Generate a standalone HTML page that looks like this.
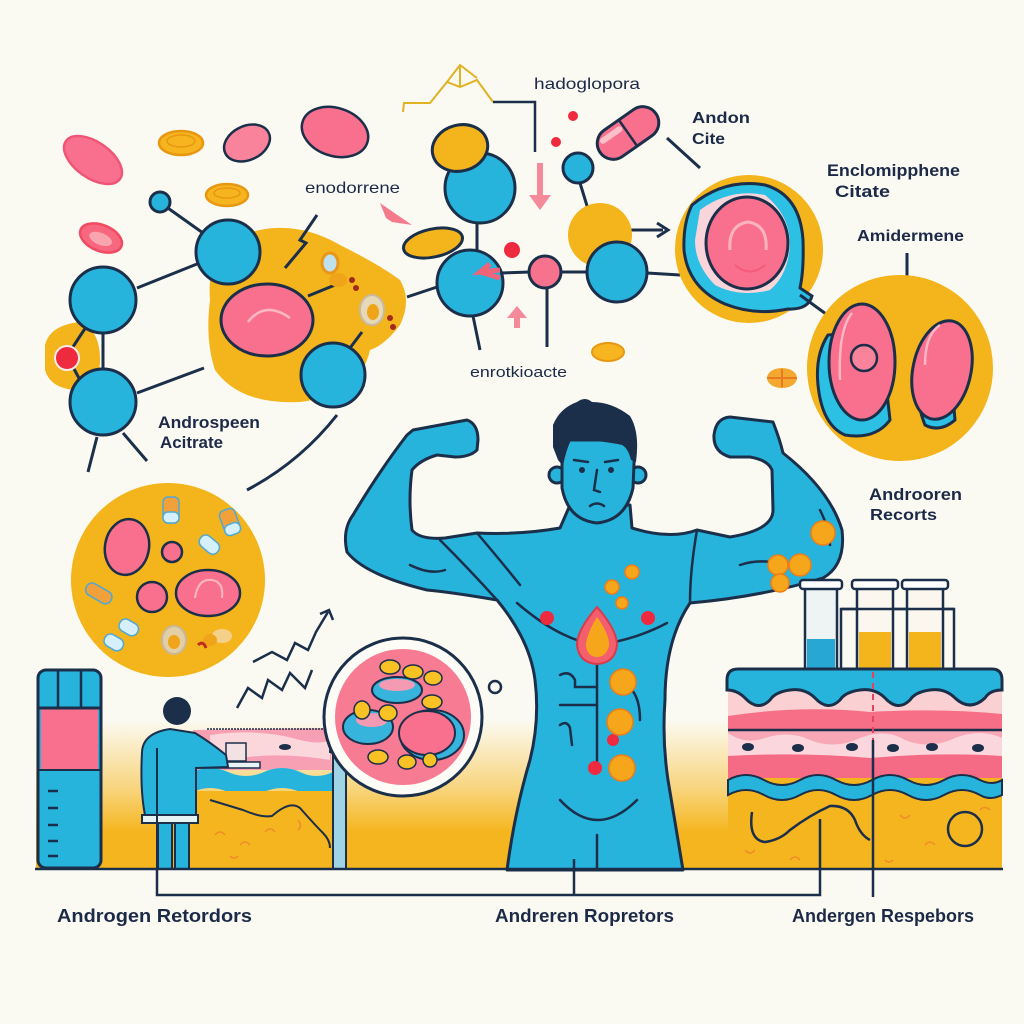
<!DOCTYPE html>
<html><head><meta charset="utf-8"><style>
html,body{margin:0;padding:0;background:#fbfaf2;}
svg{display:block;}
text{font-family:"Liberation Sans",sans-serif;fill:#1c2a48;}
</style></head><body>
<svg width="1024" height="1024" viewBox="0 0 1024 1024" xmlns="http://www.w3.org/2000/svg">
<defs>
<linearGradient id="floor" x1="0" y1="0" x2="0" y2="1">
<stop offset="0" stop-color="#f6b823" stop-opacity="0"/>
<stop offset="0.45" stop-color="#f6b823" stop-opacity="0.55"/>
<stop offset="0.75" stop-color="#f5b51f" stop-opacity="1"/>
<stop offset="1" stop-color="#f5b51f"/>
</linearGradient>
</defs>
<rect width="1024" height="1024" fill="#fbfaf2"/>

<!-- floor -->
<rect x="36" y="720" width="966" height="149" fill="url(#floor)"/>

<!-- ===== TOP LEFT PILLS ===== -->
<g stroke-width="2.5">
<ellipse cx="93" cy="160" rx="33" ry="18" transform="rotate(35 93 160)" fill="#f8708d" stroke="#ef5577"/>
<ellipse cx="181" cy="143" rx="22" ry="12" fill="#f6b51e" stroke="#e89712"/>
<ellipse cx="181" cy="141" rx="14" ry="6" fill="none" stroke="#e89712" stroke-width="1.5"/>
<ellipse cx="247" cy="143" rx="24" ry="17" transform="rotate(-25 247 143)" fill="#f8839a" stroke="#1b2f4a"/>
<ellipse cx="335" cy="132" rx="34" ry="24" transform="rotate(18 335 132)" fill="#f8708d" stroke="#1b2f4a"/>
<ellipse cx="227" cy="195" rx="21" ry="11" fill="#f6b51e" stroke="#e89712"/>
<ellipse cx="227" cy="193" rx="13" ry="5" fill="none" stroke="#e89712" stroke-width="1.5"/>
<ellipse cx="101" cy="238" rx="22" ry="13" transform="rotate(22 101 238)" fill="#f7687f" stroke="#f24a63"/>
<ellipse cx="101" cy="239" rx="12" ry="6" transform="rotate(22 101 238)" fill="#f9a5b0"/>
</g>

<!-- ===== TOP LEFT MOLECULE ===== -->
<path d="M210,300 Q205,240 260,230 Q300,222 340,245 Q380,265 400,280 Q412,300 400,325 Q385,345 370,350 Q360,395 300,402 Q240,405 215,370 Q205,340 210,300 Z" fill="#f3b41c"/>
<path d="M45,345 Q50,325 80,322 Q100,330 100,360 Q100,390 75,390 Q50,388 45,370 Z" fill="#f3b41c"/>
<g stroke="#1b2f4a" stroke-width="3" fill="none">
<line x1="165" y1="206" x2="203" y2="233"/>
<line x1="137" y1="288" x2="197" y2="264"/>
<line x1="103" y1="333" x2="103" y2="370"/>
<polyline points="86,327 67,356 80,380"/>
<line x1="137" y1="393" x2="204" y2="368"/>
<line x1="97" y1="437" x2="88" y2="472"/>
<line x1="123" y1="433" x2="147" y2="461"/>
<polyline points="317,215 300,240 306,243 285,268"/>
<path d="M247,490 Q300,462 337,415"/>
<line x1="407" y1="297" x2="437" y2="287"/>
<line x1="350" y1="348" x2="362" y2="332"/>
<line x1="308" y1="296" x2="335" y2="285"/>
</g>
<g stroke="#1b2f4a" stroke-width="3" fill="#27b4dc">
<circle cx="160" cy="202" r="10"/>
<circle cx="228" cy="252" r="32"/>
<circle cx="103" cy="300" r="33"/>
<circle cx="103" cy="402" r="33"/>
<circle cx="333" cy="375" r="32"/>
</g>
<circle cx="67" cy="358" r="12" fill="#ee2a3e" stroke="#f7eaea" stroke-width="2"/>
<ellipse cx="267" cy="320" rx="46" ry="36" fill="#f8708d" stroke="#1b2f4a" stroke-width="3"/>
<path d="M248,322 Q265,300 290,318" fill="none" stroke="#fbb7c3" stroke-width="2.5"/>
<!-- swirls -->
<g>
<ellipse cx="330" cy="263" rx="8" ry="10" fill="#bfe1ee" stroke="#e9961a" stroke-width="3"/>
<ellipse cx="338" cy="280" rx="9" ry="7" fill="#f0a419"/>
<circle cx="352" cy="280" r="3" fill="#a02a22"/>
<circle cx="356" cy="288" r="3" fill="#a02a22"/>
<ellipse cx="372" cy="310" rx="12" ry="15" fill="#e6d9b8" stroke="#c9b9a0" stroke-width="2"/>
<ellipse cx="373" cy="312" rx="6" ry="8" fill="#f0a419"/>
<circle cx="390" cy="318" r="3" fill="#a02a22"/>
<circle cx="393" cy="327" r="3" fill="#a02a22"/>
</g>

<!-- pink triangle arrow -->
<polygon points="380,203 412,225 392,222 386,218" fill="#f47a8c"/>

<!-- ===== CENTER MOLECULE ===== -->
<polyline points="403,112 404,103 430,103 447,82 460,87 477,80 493,102" fill="none" stroke="#e0b324" stroke-width="2"/>
<polyline points="447,82 460,65 477,78" fill="none" stroke="#e0b324" stroke-width="2"/>
<line x1="460" y1="65" x2="460" y2="87" stroke="#e0b324" stroke-width="2"/>
<polyline points="493,102 535,102 535,152" fill="none" stroke="#1b2f4a" stroke-width="2.5"/>
<g stroke="#1b2f4a" stroke-width="3" fill="none">
<line x1="477" y1="220" x2="477" y2="252"/>
<line x1="473" y1="316" x2="480" y2="350"/>
<line x1="500" y1="273" x2="530" y2="272"/>
<line x1="562" y1="272" x2="590" y2="272"/>
<line x1="647" y1="273" x2="680" y2="275"/>
<line x1="547" y1="288" x2="547" y2="347"/>
<line x1="580" y1="183" x2="592" y2="222"/>
<line x1="667" y1="138" x2="700" y2="168"/>
<line x1="628" y1="230" x2="663" y2="230"/>
<polyline points="657,223 668,230 657,237" stroke-width="3"/>
</g>
<circle cx="600" cy="235" r="32" fill="#f3b41c"/>
<g stroke="#1b2f4a" stroke-width="3" fill="#27b4dc">
<circle cx="480" cy="188" r="35"/>
<circle cx="470" cy="283" r="33"/>
<circle cx="617" cy="272" r="30"/>
<circle cx="578" cy="168" r="15"/>
</g>
<ellipse cx="460" cy="148" rx="28" ry="23" transform="rotate(-15 460 148)" fill="#f3b41c" stroke="#1b2f4a" stroke-width="3"/>
<ellipse cx="433" cy="243" rx="30" ry="14" transform="rotate(-12 433 243)" fill="#f3b41c" stroke="#1b2f4a" stroke-width="3"/>
<circle cx="545" cy="272" r="16" fill="#f6728d" stroke="#1b2f4a" stroke-width="3"/>
<path d="M500,270 L480,272 L490,264 M480,272 L500,278" fill="none" stroke="#f0647a" stroke-width="5"/>
<circle cx="512" cy="250" r="8" fill="#ee2a3e"/>
<circle cx="573" cy="116" r="5" fill="#ee2a3e"/>
<circle cx="556" cy="142" r="5" fill="#ee2a3e"/>
<path d="M537,163 h6 v32 h8 l-11,15 l-11,-15 h8 z" fill="#f58a9b"/>
<path d="M514,328 h6 v-10 h7 l-10,-12 l-10,12 h7 z" fill="#f58a9b"/>
<g transform="rotate(-35 628 133)">
<rect x="594" y="117" width="68" height="32" rx="16" fill="#f8708d" stroke="#1b2f4a" stroke-width="3"/>
<line x1="628" y1="117" x2="628" y2="149" stroke="#1b2f4a" stroke-width="2.5"/>
<rect x="600" y="122" width="26" height="6" rx="3" fill="#fbc1c9"/>
</g>
<ellipse cx="608" cy="352" rx="16" ry="9" fill="#f6b51e" stroke="#e89712" stroke-width="2"/>
<ellipse cx="782" cy="378" rx="15" ry="10" fill="#f5a830"/>
<line x1="767" y1="378" x2="797" y2="378" stroke="#e57c22" stroke-width="2"/>
<line x1="782" y1="369" x2="782" y2="387" stroke="#e57c22" stroke-width="2"/>

<!-- ===== RIGHT BIG CIRCLES ===== -->
<line x1="907" y1="253" x2="907" y2="276" stroke="#1b2f4a" stroke-width="3"/>
<circle cx="749" cy="249" r="74" fill="#f3b41c"/>
<path d="M692,205 Q725,178 765,185 Q800,195 803,240 Q804,270 800,288 L812,296 Q808,310 788,309 Q755,316 725,304 Q688,288 684,250 Q683,223 692,205 Z" fill="#2bc0e4" stroke="#1b2f4a" stroke-width="3"/>
<path d="M700,210 Q730,188 765,195 Q790,215 790,245 Q788,275 770,290 Q740,298 715,285 Q695,265 695,240 Z" fill="#f9d4da"/>
<ellipse cx="747" cy="243" rx="41" ry="46" fill="#f8708d" stroke="#1b2f4a" stroke-width="3"/>
<path d="M730,250 Q728,225 748,222 Q768,225 766,250" fill="none" stroke="#fbb3c0" stroke-width="3"/>
<path d="M735,265 Q750,278 765,265" fill="none" stroke="#f55a7a" stroke-width="2"/>
<line x1="800" y1="295" x2="826" y2="314" stroke="#1b2f4a" stroke-width="3"/>
<circle cx="900" cy="368" r="93" fill="#f3b41c"/>
<path d="M828,335 Q815,355 818,385 Q822,425 845,435 Q875,440 890,420 L880,330 Z" fill="#2bc0e4" stroke="#1b2f4a" stroke-width="3"/>
<path d="M915,360 Q915,400 925,425 Q940,433 955,420 L950,360 Z" fill="#2bc0e4" stroke="#1b2f4a" stroke-width="3"/>
<ellipse cx="862" cy="362" rx="33" ry="58" fill="#f8708d" stroke="#1b2f4a" stroke-width="3"/>
<path d="M840,380 Q838,330 852,313" fill="none" stroke="#fbb7c3" stroke-width="2.5"/>
<circle cx="864" cy="358" r="13" fill="#f8839a" stroke="#1b2f4a" stroke-width="2.5"/>
<ellipse cx="942" cy="370" rx="29" ry="50" transform="rotate(12 942 370)" fill="#f8708d" stroke="#1b2f4a" stroke-width="3"/>
<path d="M925,365 Q925,335 940,325" fill="none" stroke="#fbb7c3" stroke-width="2.5"/>

<!-- ===== LEFT YELLOW CIRCLE ===== -->
<circle cx="168" cy="580" r="97" fill="#f3b41c"/>
<ellipse cx="127" cy="547" rx="22" ry="28" transform="rotate(10 127 547)" fill="#f8708d" stroke="#1b2f4a" stroke-width="2.5"/>
<circle cx="172" cy="552" r="10" fill="#f8708d" stroke="#1b2f4a" stroke-width="2.5"/>
<circle cx="152" cy="597" r="15" fill="#f8708d" stroke="#1b2f4a" stroke-width="2.5"/>
<ellipse cx="208" cy="593" rx="32" ry="23" fill="#f8708d" stroke="#1b2f4a" stroke-width="2.5"/>
<path d="M195,598 Q198,578 212,580 Q224,582 222,598" fill="none" stroke="#fbb7c3" stroke-width="2"/>
<g stroke="#4fa9d4" stroke-width="1.5">
<rect x="163" y="497" width="16" height="26" rx="5" fill="#f2a13a"/>
<rect x="163" y="512" width="16" height="11" rx="5" fill="#d6f0fb"/>
<rect x="222" y="509" width="16" height="26" rx="5" transform="rotate(-20 230 522)" fill="#f2a13a"/>
<rect x="222" y="524" width="16" height="11" rx="5" transform="rotate(-20 230 522)" fill="#d6f0fb"/>
<rect x="198" y="538" width="22" height="13" rx="6" transform="rotate(40 209 545)" fill="#d6f0fb"/>
<rect x="85" y="587" width="28" height="13" rx="6" transform="rotate(30 99 593)" fill="#f2a13a"/>
<rect x="119" y="621" width="20" height="13" rx="6" transform="rotate(30 129 627)" fill="#d6f0fb"/>
<rect x="104" y="636" width="20" height="13" rx="6" transform="rotate(30 114 642)" fill="#d6f0fb"/>
</g>
<ellipse cx="174" cy="640" rx="12" ry="14" fill="#e3cfa5" stroke="#c9b79a" stroke-width="2"/>
<ellipse cx="174" cy="642" rx="6" ry="7" fill="#f0a419"/>
<ellipse cx="222" cy="636" rx="10" ry="7" fill="#f5d08b"/>
<ellipse cx="210" cy="640" rx="7" ry="6" fill="#f0a419"/>
<path d="M198,645 Q203,640 206,648" fill="none" stroke="#c02c22" stroke-width="3"/>

<!-- ===== BOTTOM LEFT SCENE ===== -->
<!-- tissue behind desk -->
<path d="M193,730 L330,728 L332,770 L193,770 Z" fill="#f7a0b3"/>
<path d="M210,735 Q260,728 300,740 Q320,745 330,740 L330,760 Q280,752 240,758 Q215,760 210,750 Z" fill="#fbd7dc"/>
<ellipse cx="285" cy="747" rx="6" ry="3" fill="#1b2f4a"/>
<line x1="207" y1="729" x2="330" y2="729" stroke="#1b2f4a" stroke-width="1.5" stroke-dasharray="2 1"/>
<path d="M193,772 Q210,764 228,772 Q246,780 264,772 Q282,764 300,772 Q316,780 333,772 L333,792 Q316,800 300,792 Q282,784 264,792 Q246,800 228,792 Q210,784 193,792 Z" fill="#27b4dc"/>
<rect x="193" y="791" width="140" height="78" fill="#f5b51f"/>
<path d="M210,800 Q230,806 243,810 Q262,818 272,816 Q290,800 300,808 Q315,825 323,833 Q330,840 330,848" fill="none" stroke="#1b2f4a" stroke-width="2"/>
<g fill="none" stroke="#ee8b2a" stroke-width="1.5">
<path d="M215,835 q5,-6 10,0"/><path d="M240,845 q5,-6 10,0"/><path d="M265,832 q5,-6 10,0"/><path d="M298,820 q5,6 0,10"/><path d="M230,856 q4,4 8,0"/>
</g>
<!-- desk pole -->
<rect x="333" y="752" width="13" height="117" fill="#9fd3e6" stroke="#1b2f4a" stroke-width="2"/>
<path d="M330,752 Q330,740 340,740 L350,745 L350,756 Z" fill="#9fd3e6" stroke="#1b2f4a" stroke-width="2"/>
<!-- desk top -->
<rect x="190" y="762" width="70" height="6" fill="#e8f3f5" stroke="#1b2f4a" stroke-width="1.5"/>
<rect x="226" y="743" width="20" height="18" fill="#f2e2e4" stroke="#1b2f4a" stroke-width="1.5"/>
<!-- person -->
<circle cx="177" cy="711" r="14" fill="#1b2f4a"/>
<path d="M142,752 Q143,733 170,729 L195,733 Q210,742 226,755 L228,767 L196,768 L196,815 L145,815 Q140,790 142,752 Z" fill="#27b4dc" stroke="#1b2f4a" stroke-width="2"/>
<rect x="142" y="815" width="56" height="8" fill="#e8f3f5" stroke="#1b2f4a" stroke-width="2"/>
<rect x="158" y="823" width="14" height="46" fill="#27b4dc" stroke="#1b2f4a" stroke-width="2"/>
<rect x="175" y="823" width="14" height="46" fill="#27b4dc" stroke="#1b2f4a" stroke-width="2"/>
<line x1="157" y1="748" x2="157" y2="895" stroke="#1b2f4a" stroke-width="2"/>
<!-- tube -->
<rect x="38" y="670" width="63" height="198" rx="8" fill="#27b4dc" stroke="#1b2f4a" stroke-width="3"/>
<rect x="41" y="708" width="57" height="62" fill="#f8708d"/>
<line x1="38" y1="708" x2="101" y2="708" stroke="#1b2f4a" stroke-width="3"/>
<line x1="38" y1="770" x2="101" y2="770" stroke="#1b2f4a" stroke-width="2"/>
<line x1="58" y1="670" x2="58" y2="708" stroke="#1b2f4a" stroke-width="2.5"/>
<line x1="81" y1="670" x2="81" y2="708" stroke="#1b2f4a" stroke-width="2.5"/>
<g stroke="#1b2f4a" stroke-width="2.5">
<line x1="48" y1="791" x2="58" y2="791"/><line x1="48" y1="808" x2="58" y2="808"/><line x1="48" y1="825" x2="58" y2="825"/><line x1="48" y1="841" x2="58" y2="841"/><line x1="48" y1="856" x2="58" y2="856"/>
</g>
<!-- zigzag arrow -->
<polyline points="237,708 248,688 262,698 268,680 282,690 290,673 305,688 312,670" fill="none" stroke="#1b2f4a" stroke-width="2.5"/>
<polyline points="253,662 272,652 287,660 295,643 308,650 316,632 328,612" fill="none" stroke="#1b2f4a" stroke-width="2.5"/>
<polyline points="320,614 329,610 333,620" fill="none" stroke="#1b2f4a" stroke-width="2.5"/>
<!-- magnifier -->
<circle cx="403" cy="717" r="79" fill="#fdfcf6" stroke="#1b2f4a" stroke-width="3"/>
<circle cx="403" cy="717" r="68" fill="#f67b93"/>
<ellipse cx="397" cy="690" rx="25" ry="13" fill="#37b4dc" stroke="#1b2f4a" stroke-width="2"/>
<ellipse cx="397" cy="685" rx="18" ry="6" fill="#f59ab3"/>
<ellipse cx="368" cy="727" rx="25" ry="17" fill="#37b4dc" stroke="#1b2f4a" stroke-width="2"/>
<ellipse cx="372" cy="720" rx="16" ry="7" fill="#f59ab3"/>
<ellipse cx="432" cy="735" rx="32" ry="25" fill="#37b4dc" stroke="#1b2f4a" stroke-width="2"/>
<ellipse cx="427" cy="733" rx="28" ry="22" fill="#f8708d" stroke="#1b2f4a" stroke-width="2"/>
<g fill="#f8c224" stroke="#1b2f4a" stroke-width="1.5">
<ellipse cx="390" cy="667" rx="10" ry="7"/><ellipse cx="413" cy="672" rx="10" ry="7"/><ellipse cx="433" cy="678" rx="9" ry="7"/>
<ellipse cx="362" cy="710" rx="8" ry="9"/><ellipse cx="388" cy="713" rx="9" ry="8"/><ellipse cx="432" cy="702" rx="10" ry="7"/>
<ellipse cx="378" cy="757" rx="10" ry="7"/><ellipse cx="407" cy="762" rx="9" ry="7"/><ellipse cx="430" cy="760" rx="7" ry="7"/>
</g>
<circle cx="495" cy="687" r="6" fill="none" stroke="#1b2f4a" stroke-width="2.5"/>

<!-- ===== MAN ===== -->
<path d="M413,430 L467,420 Q478,424 478,440 L477,450 Q470,457 455,457 L437,455 Q420,460 412,470 Q408,500 412,530 Q420,540 445,538 L477,533 Q520,535 560,528 L570,505 L630,505 L632,528 Q670,540 697,530 L730,537 Q773,530 773,510 L772,470 Q768,460 750,457 L730,457 Q713,452 714,435 Q716,418 730,417 L773,422 Q780,440 783,453 Q830,490 842,530 Q846,565 823,578 Q760,597 690,603 Q665,640 665,700 Q662,740 668,780 L683,870 L507,870 Q515,810 530,760 Q540,720 535,680 Q530,640 497,600 Q450,592 427,590 Q365,575 347,552 Q342,530 353,515 Q380,470 407,435 Z" fill="#27b4dc" stroke="#1b2f4a" stroke-width="3" stroke-linejoin="round"/>
<g fill="none" stroke="#1b2f4a" stroke-width="2.5" stroke-linecap="round">
<path d="M440,540 Q470,570 497,600"/>
<path d="M517,603 Q560,640 597,645 Q635,640 667,623"/>
<path d="M697,530 Q690,570 690,603"/>
<path d="M477,533 Q500,560 520,585"/>
<path d="M410,565 Q430,575 445,570"/>
<path d="M740,565 Q755,560 770,562"/>
<line x1="597" y1="663" x2="597" y2="768"/>
<path d="M560,675 Q570,670 575,680 L575,687 L597,687"/>
<path d="M560,705 L597,705"/>
<path d="M560,725 Q567,720 570,728 L572,745"/>
<path d="M632,690 Q640,700 640,720"/>
<path d="M560,800 Q597,840 637,800"/>
<line x1="597" y1="835" x2="597" y2="868"/>
<path d="M820,510 Q830,530 830,545"/>
</g>
<!-- head -->
<circle cx="557" cy="475" r="8" fill="#27b4dc" stroke="#1b2f4a" stroke-width="3"/>
<circle cx="638" cy="475" r="8" fill="#27b4dc" stroke="#1b2f4a" stroke-width="3"/>
<path d="M562,440 L562,488 Q568,520 597,523 Q626,520 633,488 L635,440 Z" fill="#27b4dc" stroke="#1b2f4a" stroke-width="3"/>
<path d="M553,447 L553,425 Q560,408 577,402 Q585,396 592,402 Q612,402 630,416 Q640,432 636,462 L631,460 Q628,448 622,445 Q600,440 571,440 Q566,450 563,466 L558,460 Z" fill="#1b2f4a"/>
<g stroke="#1b2f4a" stroke-width="2.5" fill="none" stroke-linecap="round">
<line x1="574" y1="460" x2="588" y2="462"/><line x1="605" y1="462" x2="618" y2="460"/>
<path d="M597,470 L594,490 L600,492"/>
<path d="M590,506 Q597,501 604,506"/>
</g>
<circle cx="582" cy="470" r="3" fill="#1b2f4a"/><circle cx="611" cy="470" r="3" fill="#1b2f4a"/>
<!-- body dots -->
<path d="M597,607 Q617,630 617,645 Q615,663 597,664 Q579,663 577,645 Q577,630 597,607 Z" fill="#f35f6c" stroke="#d93a4c" stroke-width="2"/>
<path d="M597,617 Q610,635 609,646 Q606,657 597,657 Q588,657 586,646 Q586,635 597,617 Z" fill="#f6a61a"/>
<g fill="#ee2a3e"><circle cx="547" cy="618" r="7"/><circle cx="648" cy="618" r="7"/><circle cx="613" cy="740" r="6"/><circle cx="595" cy="768" r="7"/></g>
<g fill="#f6a61a" stroke="#ef7d16" stroke-width="1.5">
<circle cx="632" cy="572" r="7"/><circle cx="612" cy="587" r="7"/><circle cx="622" cy="603" r="6"/>
<circle cx="623" cy="682" r="13"/><circle cx="620" cy="722" r="13"/><circle cx="622" cy="768" r="13"/>
<circle cx="823" cy="533" r="12"/><circle cx="778" cy="565" r="10"/><circle cx="800" cy="565" r="11"/><circle cx="780" cy="583" r="9"/>
</g>

<!-- ===== RIGHT SKIN BLOCK ===== -->
<!-- test tubes -->
<rect x="841" y="609" width="113" height="60" fill="none" stroke="#1b2f4a" stroke-width="2.5"/>
<rect x="805" y="585" width="32" height="84" fill="#eef3f3" stroke="#1b2f4a" stroke-width="2.5"/>
<rect x="807" y="639" width="28" height="29" fill="#27a7d4"/>
<rect x="800" y="580" width="42" height="9" rx="3" fill="#fff" stroke="#1b2f4a" stroke-width="2.5"/>
<rect x="857" y="585" width="36" height="84" fill="#fbf6ee" stroke="#1b2f4a" stroke-width="2.5"/>
<rect x="859" y="632" width="32" height="36" fill="#f3b41c"/>
<rect x="852" y="580" width="46" height="9" rx="3" fill="#fff" stroke="#1b2f4a" stroke-width="2.5"/>
<rect x="907" y="585" width="36" height="84" fill="#fbf6ee" stroke="#1b2f4a" stroke-width="2.5"/>
<rect x="909" y="632" width="32" height="36" fill="#f3b41c"/>
<rect x="902" y="580" width="46" height="9" rx="3" fill="#fff" stroke="#1b2f4a" stroke-width="2.5"/>
<line x1="841" y1="609" x2="954" y2="609" stroke="#1b2f4a" stroke-width="2.5"/>
<!-- layers -->
<rect x="728" y="688" width="274" height="181" fill="#f5b51f"/>
<rect x="728" y="688" width="274" height="28" fill="#fbd0d3"/>
<path d="M728,716 Q800,705 870,712 Q940,708 1002,714 L1002,729 L728,729 Z" fill="#f66f86"/>
<rect x="728" y="731" width="274" height="28" fill="#fbd6dc"/>
<path d="M728,733 Q745,745 765,738 Q790,730 810,740 Q835,750 860,738 Q885,728 905,740 Q930,750 955,738 Q980,728 1002,738 L1002,731 L728,731 Z" fill="#f7a7b6"/>
<line x1="728" y1="730" x2="1002" y2="730" stroke="#1b2f4a" stroke-width="2.5"/>
<g fill="#1b2f4a"><ellipse cx="748" cy="747" rx="6" ry="4"/><ellipse cx="798" cy="748" rx="6" ry="4"/><ellipse cx="852" cy="747" rx="6" ry="4"/><ellipse cx="893" cy="748" rx="6" ry="4"/><ellipse cx="932" cy="747" rx="6" ry="4"/><ellipse cx="978" cy="748" rx="6" ry="4"/></g>
<path d="M728,756 Q800,752 870,758 Q940,752 1002,756 L1002,778 L728,778 Z" fill="#f56a84"/>
<path d="M728,780 Q746,770 764,780 Q782,790 800,780 Q818,770 836,780 Q854,790 872,780 Q890,770 908,780 Q926,790 944,780 Q962,770 980,780 Q992,786 1002,780 L1002,795 Q990,801 980,795 Q962,785 944,795 Q926,805 908,795 Q890,785 872,795 Q854,805 836,795 Q818,785 800,795 Q782,805 764,795 Q746,785 728,795 Z" fill="#27b4dc" stroke="#1b2f4a" stroke-width="2"/>
<path d="M752,812 Q748,840 765,842 Q780,840 790,830 Q810,815 830,806 Q848,805 855,820 Q860,835 870,840" fill="none" stroke="#1b2f4a" stroke-width="2.5"/>
<circle cx="965" cy="829" r="17" fill="none" stroke="#1b2f4a" stroke-width="2.5"/>
<g fill="none" stroke="#ee8b2a" stroke-width="1.5">
<path d="M745,850 q5,6 10,0"/><path d="M790,860 q5,-6 10,0"/><path d="M900,815 q5,6 10,0"/><path d="M925,845 q5,-6 10,0"/><path d="M885,860 q4,4 8,0"/><path d="M980,810 q5,-5 10,0"/>
</g>
<!-- blue cap -->
<path d="M727,680 Q727,669 738,669 L992,669 Q1002,669 1002,680 L1002,690 Q990,690 985,698 Q970,712 955,698 Q945,688 930,690 Q915,692 910,700 Q898,712 885,698 Q875,688 860,690 Q845,692 840,700 Q828,712 815,698 Q805,688 790,690 Q775,692 770,700 Q758,712 745,698 Q737,690 727,690 Z" fill="#27b4dc" stroke="#1b2f4a" stroke-width="3"/>
<line x1="873" y1="672" x2="873" y2="740" stroke="#e6445e" stroke-width="2" stroke-dasharray="6 5"/>
<line x1="873" y1="740" x2="873" y2="897" stroke="#1b2f4a" stroke-width="2.5"/>

<!-- ground line and connectors -->
<line x1="35" y1="869" x2="1003" y2="869" stroke="#1b2f4a" stroke-width="2.5"/>
<polyline points="157,869 157,895 820,895 820,819" fill="none" stroke="#1b2f4a" stroke-width="2.5"/>
<line x1="574" y1="859" x2="574" y2="895" stroke="#1b2f4a" stroke-width="2.5"/>

<!-- ===== LABELS ===== -->
<g font-weight="bold">
<text x="57" y="922" font-size="18" textLength="195" lengthAdjust="spacingAndGlyphs">Androgen Retordors</text>
<text x="495" y="922" font-size="18" textLength="179" lengthAdjust="spacingAndGlyphs">Andreren Ropretors</text>
<text x="792" y="922" font-size="18" textLength="182" lengthAdjust="spacingAndGlyphs">Andergen Respebors</text>
<text x="158" y="428" font-size="17" textLength="102" lengthAdjust="spacingAndGlyphs">Androspeen</text>
<text x="160" y="448" font-size="17" textLength="63" lengthAdjust="spacingAndGlyphs">Acitrate</text>
<text x="692" y="123" font-size="16" textLength="58" lengthAdjust="spacingAndGlyphs">Andon</text>
<text x="692" y="144" font-size="16" textLength="33" lengthAdjust="spacingAndGlyphs">Cite</text>
<text x="827" y="176" font-size="17" textLength="133" lengthAdjust="spacingAndGlyphs">Enclomipphene</text>
<text x="835" y="197" font-size="17" textLength="55" lengthAdjust="spacingAndGlyphs">Citate</text>
<text x="857" y="241" font-size="16" textLength="107" lengthAdjust="spacingAndGlyphs">Amidermene</text>
<text x="869" y="500" font-size="17" textLength="93" lengthAdjust="spacingAndGlyphs">Androoren</text>
<text x="870" y="520" font-size="16" textLength="67" lengthAdjust="spacingAndGlyphs">Recorts</text>
</g>
<text x="534" y="89" font-size="16" textLength="106" lengthAdjust="spacingAndGlyphs">hadoglopora</text>
<text x="305" y="193" font-size="16" textLength="95" lengthAdjust="spacingAndGlyphs">enodorrene</text>
<text x="470" y="377" font-size="15" textLength="97" lengthAdjust="spacingAndGlyphs">enrotkioacte</text>
</svg>
</body></html>
